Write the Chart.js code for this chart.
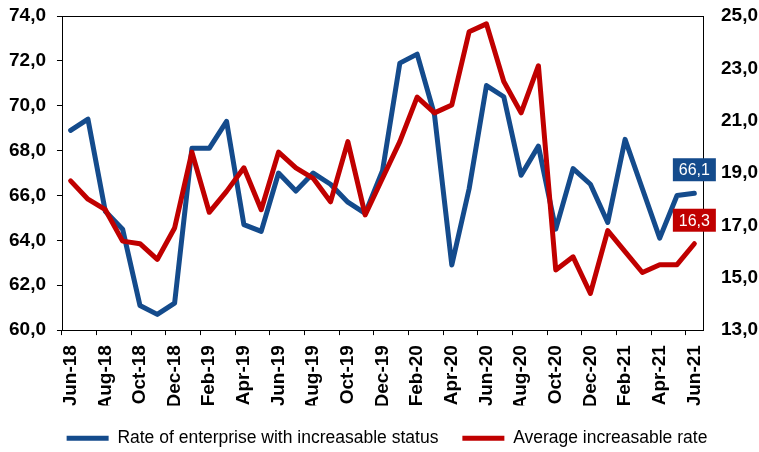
<!DOCTYPE html>
<html>
<head>
<meta charset="utf-8">
<script src="https://cdn.jsdelivr.net/npm/chart.js@4.4.1/dist/chart.umd.min.js"></script>
<style>
  html, body { margin: 0; padding: 0; background: #fff; }
</style>
</head>
<body>
<canvas id="chart" width="759" height="452"></canvas>
<script>
const months = ['Jun-18', 'Jul-18', 'Aug-18', 'Sep-18', 'Oct-18', 'Nov-18', 'Dec-18', 'Jan-19', 'Feb-19', 'Mar-19',
  'Apr-19', 'May-19', 'Jun-19', 'Jul-19', 'Aug-19', 'Sep-19', 'Oct-19', 'Nov-19', 'Dec-19', 'Jan-20',
  'Feb-20', 'Mar-20', 'Apr-20', 'May-20', 'Jun-20', 'Jul-20', 'Aug-20', 'Sep-20', 'Oct-20', 'Nov-20',
  'Dec-20', 'Jan-21', 'Feb-21', 'Mar-21', 'Apr-21', 'May-21', 'Jun-21'];

// left axis
const enterpriseRate = [68.9, 69.4, 65.3, 64.5, 61.1, 60.7, 61.2, 68.1, 68.1, 69.3,
  64.7, 64.4, 67.0, 66.2, 67.0, 66.5, 65.7, 65.2, 67.1, 71.9,
  72.3, 69.6, 62.9, 66.3, 70.9, 70.4, 66.9, 68.2, 64.5, 67.2,
  66.5, 64.8, 68.5, 66.3, 64.1, 66.0, 66.1];

// right axis
const averageRate = [18.7, 18.0, 17.6, 16.4, 16.3, 15.7, 16.9, 19.8, 17.5, 18.3,
  19.2, 17.6, 19.8, 19.2, 18.8, 17.9, 20.2, 17.4, 18.8, 20.2,
  21.9, 21.3, 21.6, 24.4, 24.7, 22.5, 21.3, 23.1, 15.3, 15.8,
  14.4, 16.8, 16.0, 15.2, 15.5, 15.5, 16.3];

const leftTicks = [60, 62, 64, 66, 68, 70, 72, 74];
const rightTicks = [13, 15, 17, 19, 21, 23, 25];

const BLUE = '#144B8C';
const RED = '#C00000';
const FONT = '"Liberation Sans", Arial, sans-serif';

const fmt = v => v.toFixed(1).replace('.', ',');

// y axes should not push the plot down for their half-label overhang
const noVPad = s => { s.paddingTop = 0; s.paddingBottom = 0; };

// frame round the plot + value tags on the last points
const frameAndTags = {
  id: 'frameAndTags',
  beforeDatasetsDraw(chart) {
    const { ctx, chartArea: a } = chart;
    ctx.save();
    ctx.strokeStyle = '#000';
    ctx.lineWidth = 1;
    ctx.strokeRect(Math.round(a.left) + 0.5, Math.round(a.top) + 0.5,
      Math.round(a.right) - Math.round(a.left), Math.round(a.bottom) - Math.round(a.top));
    ctx.restore();
  },
  afterDatasetsDraw(chart) {
    const ctx = chart.ctx;
    ctx.save();
    chart.data.datasets.forEach((ds, i) => {
      const meta = chart.getDatasetMeta(i);
      const pt = meta.data[meta.data.length - 1];
      const w = 43, h = 23;
      const top = pt.y - 12 - h;
      ctx.fillStyle = ds.borderColor;
      ctx.fillRect(pt.x - w / 2, top, w, h);
      ctx.fillStyle = '#fff';
      ctx.font = '16px ' + FONT;
      ctx.textAlign = 'center';
      ctx.textBaseline = 'middle';
      ctx.fillText(fmt(ds.data[ds.data.length - 1]), pt.x, top + h / 2 + 1);
    });
    ctx.restore();
  }
};

new Chart(document.getElementById('chart'), {
  type: 'line',
  data: {
    labels: months,
    datasets: [{
      label: 'Rate of enterprise with increasable status',
      data: enterpriseRate,
      yAxisID: 'y',
      borderColor: BLUE,
      backgroundColor: BLUE,
      borderWidth: 5,
      borderJoinStyle: 'round',
      borderCapStyle: 'round',
      pointRadius: 0,
      tension: 0,
      order: 2
    }, {
      label: 'Average increasable rate',
      data: averageRate,
      yAxisID: 'y1',
      borderColor: RED,
      backgroundColor: RED,
      borderWidth: 5,
      borderJoinStyle: 'round',
      borderCapStyle: 'round',
      pointRadius: 0,
      tension: 0,
      order: 1
    }]
  },
  options: {
    responsive: false,
    animation: false,
    layout: { padding: { left: -2, right: -17, top: 16, bottom: -5 } },
    plugins: {
      tooltip: { enabled: false },
      legend: {
        position: 'bottom',
        labels: {
          usePointStyle: true,
          pointStyle: 'line',
          pointStyleWidth: 42,
          padding: 24,
          color: '#000',
          font: { family: FONT, size: 17.5 },
          sort: (a, b) => a.datasetIndex - b.datasetIndex
        }
      }
    },
    scales: {
      x: {
        offset: true,
        border: { display: false },
        afterFit: s => { s.height -= 14; },
        grid: {
          offset: true,
          drawOnChartArea: false,
          tickLength: 5,
          tickColor: c => (c.index % 2 === 0 ? '#000' : 'rgba(0,0,0,0)')
        },
        ticks: {
          autoSkip: false,
          minRotation: 90,
          maxRotation: 90,
          padding: 10,
          color: '#000',
          font: { family: FONT, size: 19, weight: 'bold' },
          callback: (v, i) => (i % 2 === 0 ? months[i] : '')
        }
      },
      y: {
        position: 'left',
        min: 60,
        max: 74,
        afterBuildTicks: s => { s.ticks = leftTicks.map(v => ({ value: v })); },
        afterFit: noVPad,
        border: { display: false },
        grid: { drawOnChartArea: false, tickLength: 5, tickColor: '#000' },
        ticks: {
          padding: 11,
          color: '#000',
          font: { family: FONT, size: 19, weight: 'bold' },
          callback: v => fmt(v)
        }
      },
      y1: {
        position: 'right',
        min: 13,
        max: 25,
        afterBuildTicks: s => { s.ticks = rightTicks.map(v => ({ value: v })); },
        afterFit: noVPad,
        border: { display: false },
        grid: { drawOnChartArea: false, drawTicks: false },
        ticks: {
          padding: 18,
          color: '#000',
          font: { family: FONT, size: 19, weight: 'bold' },
          callback: v => fmt(v)
        }
      }
    }
  },
  plugins: [frameAndTags]
});
</script>
</body>
</html>
